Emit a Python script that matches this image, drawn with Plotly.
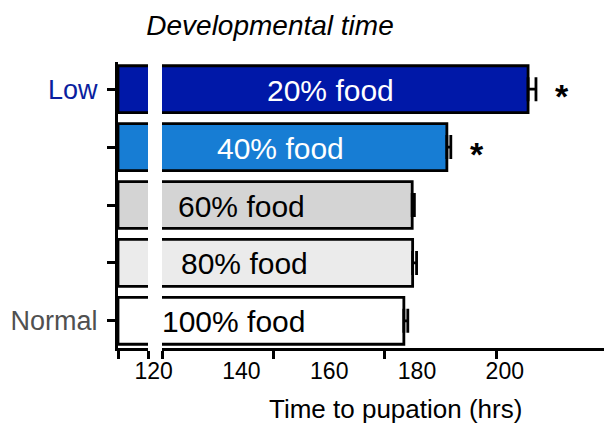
import plotly.graph_objects as go

# ---- data -------------------------------------------------------------
FOOD = ["20% food", "40% food", "60% food", "80% food", "100% food"]
PUPATION_HRS = [205.3, 186.8, 178.9, 179.0, 177.0]
SEM_HRS = [1.8, 0.9, 0.5, 0.9, 0.9]
SIGNIF = ["*", "*", "", "", ""]
LEVEL_TEXT = ["Low", "", "", "", "Normal"]
X_TICK_VALUES = [120, 140, 160, 180, 200]
X_TICK_TEXT = ["120", "140", "160", "180", "200"]

# ---- styling ----------------------------------------------------------
BAR_COLORS = ["#0018A8", "#177DD4", "#D4D4D4", "#EBEBEB", "#FFFFFF"]
TEXT_COLORS = ["white", "white", "black", "black", "black"]
LEVEL_COLORS = ["#0A1E9E", None, None, None, "#505050"]
LABEL_X = [160.4, 148.8, 140.1, 140.6, 138.3]  # centre of each in-bar caption
FONT = "Liberation Sans, Arial, Helvetica, sans-serif"

W, H = 605, 426
PLOT_L, PLOT_R, PLOT_T, PLOT_B = 118, 604, 62, 348
BREAK_L, BREAK_R = 148, 162
X_LO, X_HI = 121.9, 222.6            # visible range right of the break
units_per_px = (X_HI - X_LO) / (PLOT_R - BREAK_R)
plot_w = PLOT_R - PLOT_L
left_dom = [0, (BREAK_L - PLOT_L) / plot_w]
right_dom = [(BREAK_R - PLOT_L) / plot_w, 1]
label_range = [X_LO - (BREAK_R - PLOT_L) * units_per_px, X_HI]
tick_marks = [X_LO + k * 25.4 for k in range(4)]

ticktext_y = []
for t, c in zip(LEVEL_TEXT, LEVEL_COLORS):
    ticktext_y.append(f"<span style='color:{c}'>{t}</span>" if t else "")

fig = go.Figure()
bar_style = dict(
    orientation="h",
    marker=dict(color=BAR_COLORS, line=dict(color="black", width=2.8)),
    width=0.81,
    showlegend=False,
    hoverinfo="skip",
)
# stub of every bar left of the axis break
fig.add_trace(go.Bar(x=PUPATION_HRS, y=FOOD, xaxis="x", yaxis="y", **bar_style))
# main part of the bars, with SEM whiskers
fig.add_trace(go.Bar(
    x=PUPATION_HRS, y=FOOD, xaxis="x2", yaxis="y",
    error_x=dict(type="data", array=SEM_HRS, arrayminus=[0] * len(SEM_HRS),
                 color="black", thickness=2.8, width=12),
    **bar_style))
# axis that only carries the hour labels across the whole width
fig.add_trace(go.Scatter(x=[], y=[], xaxis="x3", yaxis="y", showlegend=False))

annotations = []
for name, val, err, lx, tc, s in zip(FOOD, PUPATION_HRS, SEM_HRS, LABEL_X, TEXT_COLORS, SIGNIF):
    annotations.append(dict(
        x=lx, y=name, xref="x2", yref="y", text=name, showarrow=False,
        font=dict(family=FONT, size=30, color=tc), xanchor="center", yanchor="middle",
        yshift=-1))
    if s:
        annotations.append(dict(
            x=val + err + 6, y=name, xref="x2", yref="y", text=f"<b>{s}</b>",
            showarrow=False, font=dict(family=FONT, size=34, color="black"),
            xanchor="center", yanchor="middle", yshift=-7))
annotations.append(dict(
    x=(395.5 - PLOT_L) / plot_w, y=-(409 - PLOT_B) / (PLOT_B - PLOT_T),
    xref="paper", yref="paper", text="Time to pupation (hrs)", showarrow=False,
    font=dict(family=FONT, size=26, color="black"), xanchor="center", yanchor="middle"))

axis_common = dict(showgrid=False, zeroline=False, showline=True, linecolor="black",
                   linewidth=3, ticks="outside", ticklen=8, tickwidth=2.8,
                   tickcolor="black", showticklabels=False, anchor="y")

fig.update_layout(
    width=W, height=H,
    margin=dict(l=PLOT_L, r=W - PLOT_R, t=PLOT_T, b=H - PLOT_B, pad=0),
    paper_bgcolor="white", plot_bgcolor="rgba(0,0,0,0)",
    barmode="overlay",
    font=dict(family=FONT, color="black"),
    title=dict(text="<i>Developmental time</i>", x=270 / W, xref="container",
               xanchor="center", y=1 - 25 / H, yref="container", yanchor="middle",
               font=dict(family=FONT, size=28, color="black")),
    xaxis=dict(domain=left_dom, range=[0, 10], tickmode="array", tickvals=[0, 10],
               **axis_common),
    xaxis2=dict(domain=right_dom, range=[X_LO, X_HI], tickmode="array",
                tickvals=tick_marks, **axis_common),
    xaxis3=dict(domain=[0, 1], range=label_range, anchor="y", showline=False,
                showgrid=False, zeroline=False, tickmode="array",
                tickvals=X_TICK_VALUES, ticktext=X_TICK_TEXT, ticks="outside",
                ticklen=2, tickcolor="rgba(0,0,0,0)",
                tickfont=dict(family=FONT, size=23, color="black")),
    yaxis=dict(domain=[0, 1], anchor="x", type="category", categoryorder="array",
               categoryarray=FOOD[::-1], range=[-0.47, 4.47], showgrid=False,
               zeroline=False, showline=True, linecolor="black", linewidth=3,
               ticks="outside", ticklen=8, tickwidth=2.8, tickcolor="black",
               tickmode="array", tickvals=FOOD, ticktext=ticktext_y,
               ticklabelstandoff=4, tickfont=dict(family=FONT, size=27)),
    annotations=annotations,
)

fig.write_html("out.html")
